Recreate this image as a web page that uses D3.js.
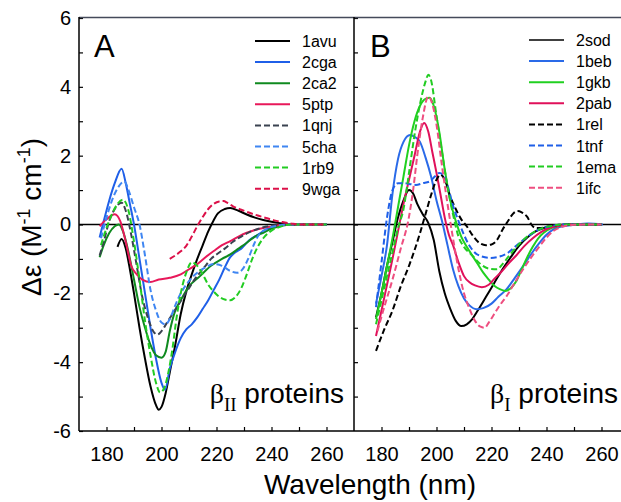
<!DOCTYPE html>
<html>
<head>
<meta charset="utf-8">
<script src="https://cdn.jsdelivr.net/npm/d3@7"></script>
<style>
  body { margin: 0; background: #fff; }
  svg { display: block; font-family: "Liberation Sans", Arial, sans-serif; }
  .axis .domain { display: none; }
  .axis line { stroke: #000; stroke-width: 1.2; }
  .curve { fill: none; stroke-width: 2; stroke-linejoin: round; }
</style>
</head>
<body>
<div id="chart"></div>
<script>
// wavelength (nm) / delta epsilon pairs

// panel A : beta II proteins
var avu1 = [[184,-0.65],[185.5,-0.42],[187,-0.7],[188.5,-1.3],[190,-2.0],[192,-3.0],[194,-3.9],[196,-4.7],[198,-5.25],[199,-5.38],[200,-5.3],[201.5,-4.9],[203,-4.3],[205,-3.5],[207,-2.6],[209,-1.95],[211,-1.45],[213,-1.0],[215,-0.6],[217,-0.2],[218.5,0.05],[220.5,0.32],[223,0.45],[225,0.48],[228,0.4],[231,0.29],[234,0.2],[237,0.13],[240,0.08],[243,0.04],[247,0.01],[250,0],[260,0]];
var cga2 = [[177.5,-0.38],[179,0.1],[181,0.7],[183,1.2],[185.5,1.62],[187,1.2],[188.5,0.6],[190,0.0],[192,-1.0],[194,-2.0],[196,-3.0],[198,-3.9],[200,-4.6],[201.3,-4.8],[203,-4.2],[205,-3.7],[207,-3.3],[209,-3.05],[211,-2.9],[213,-2.7],[215,-2.45],[217,-2.2],[219,-1.9],[221,-1.6],[223,-1.25],[225,-0.95],[227,-0.8],[229,-0.7],[232,-0.45],[235,-0.3],[238,-0.15],[242,-0.05],[246,0],[260,0]];
var ca22 = [[177.5,-0.95],[179,-0.6],[181,-0.25],[183,-0.05],[184.5,0.0],[186,-0.2],[188,-0.8],[190,-1.6],[192,-2.4],[194,-3.0],[196,-3.5],[198,-3.8],[200,-3.87],[201.5,-3.7],[203,-3.1],[205,-2.5],[207,-2.2],[210,-1.8],[214,-1.5],[218,-1.2],[222,-1.0],[225,-0.87],[228,-0.7],[231,-0.53],[234,-0.35],[237,-0.24],[240,-0.12],[243,-0.05],[247,0],[260,0]];
var ptp5 = [[177.5,-0.05],[180,0.15],[183,0.3],[185,0.1],[187,-0.5],[189,-1.2],[191,-1.45],[193,-1.6],[196,-1.67],[199,-1.6],[203,-1.55],[207,-1.45],[210,-1.3],[213,-1.15],[216,-0.95],[219,-0.77],[222,-0.6],[225,-0.48],[228,-0.35],[231,-0.24],[234,-0.16],[237,-0.1],[241,-0.04],[246,0],[260,0]];
var qnj1 = [[177.5,-0.9],[179,-0.5],[181,0.1],[183,0.45],[185.5,0.63],[187,0.4],[189,-0.3],[191,-1.2],[193,-2.1],[195,-2.7],[197,-3.1],[198.5,-3.2],[200,-3.1],[202,-2.85],[204,-2.6],[206,-2.35],[208,-2.1],[210,-1.85],[212,-1.6],[214,-1.4],[216,-1.2],[218,-1.0],[220,-0.87],[223,-0.7],[226,-0.5],[229,-0.35],[232,-0.22],[235,-0.13],[238,-0.06],[242,-0.02],[246,0],[260,0]];
var cha5 = [[178,-0.4],[180,0.2],[182,0.7],[184,1.05],[186.5,1.25],[188,1.0],[190,0.5],[192,0.0],[194,-0.9],[196,-1.9],[198,-2.5],[200,-2.85],[201.5,-2.9],[203,-2.75],[205,-2.35],[207,-2.0],[209,-1.75],[211,-1.55],[213,-1.4],[216,-1.25],[219,-1.15],[222,-1.2],[225,-1.35],[227.5,-1.4],[229.5,-1.3],[231.5,-1.0],[233.5,-0.6],[235,-0.35],[238,-0.14],[242,-0.04],[246,0],[260,0]];
var rb91 = [[178,-0.6],[180,-0.1],[182,0.3],[184,0.6],[186,0.72],[188,0.4],[190,-0.5],[192,-1.6],[194,-2.8],[196,-3.8],[198,-4.6],[199.5,-4.88],[201,-4.75],[202.5,-4.3],[204,-3.6],[205.5,-2.7],[207,-2.0],[209,-1.4],[211,-1.1],[213,-1.2],[215,-1.45],[217,-1.75],[219,-1.95],[221,-2.1],[223,-2.18],[225,-2.2],[227,-2.1],[229,-1.85],[231,-1.45],[233,-1.0],[235,-0.65],[237,-0.4],[240,-0.18],[243,-0.07],[247,0],[260,0]];
var wga9 = [[203,-1.0],[205,-0.9],[207,-0.78],[209,-0.62],[211,-0.35],[213,-0.05],[215,0.22],[217,0.45],[219,0.6],[221,0.67],[222.5,0.68],[224,0.63],[226,0.53],[229,0.43],[232,0.34],[235,0.26],[238,0.19],[241,0.12],[244,0.07],[247,0.03],[250,0],[260,0]];

// panel B : beta I proteins
var sod2 = [[178,-2.7],[180,-2.0],[182,-1.2],[184,-0.5],[186,0.2],[188,0.7],[190,1.0],[191.5,0.9],[193,0.6],[195,0.3],[197,0.05],[199,-0.45],[201,-1.35],[203,-2.0],[205,-2.45],[207,-2.8],[209,-2.95],[211,-2.9],[213,-2.75],[215,-2.5],[218,-2.1],[221,-1.7],[224,-1.3],[227,-0.95],[230,-0.62],[233,-0.38],[236,-0.2],[239,-0.1],[243,-0.04],[247,0],[260,0]];
var beb1 = [[178,-2.3],[180,-1.5],[182,-0.6],[184,0.9],[186,1.9],[188,2.4],[190.4,2.6],[192,2.55],[194,2.4],[196,1.95],[198,1.4],[200,0.7],[202,0.1],[204,-0.6],[206,-1.3],[208,-1.8],[210,-2.15],[212,-2.35],[214.5,-2.46],[217,-2.43],[220,-2.3],[222.5,-2.1],[225.5,-1.88],[228.5,-1.55],[231.5,-1.21],[234.5,-0.85],[237.5,-0.53],[240,-0.3],[242.5,-0.14],[246,-0.05],[250,-0.01],[255,0.03],[260.5,0]];
var gkb1 = [[178,-2.75],[180,-2.0],[182,-1.2],[184,-0.4],[186,0.5],[188,1.4],[190,2.3],[192,3.0],[194,3.45],[196,3.65],[197.5,3.68],[199,3.45],[201,2.7],[203,1.6],[205,0.7],[207,0.1],[209,-0.35],[211,-0.65],[213,-0.9],[215,-1.15],[217,-1.4],[219,-1.6],[221,-1.78],[223,-1.88],[225,-1.93],[227,-1.85],[229,-1.65],[231,-1.3],[233,-0.95],[235,-0.65],[237,-0.4],[239,-0.24],[242,-0.1],[246,-0.03],[250,0],[260,0]];
var pab2 = [[178,-3.24],[180,-2.5],[182,-1.75],[184,-1.0],[186,-0.2],[188,0.6],[190,1.3],[192,2.0],[194,2.7],[195.5,2.95],[197,2.7],[198.5,2.1],[200,1.5],[201.5,0.85],[203,0.2],[204.5,-0.3],[206,-0.6],[208,-1.1],[210,-1.5],[212,-1.68],[214,-1.77],[216.5,-1.82],[219,-1.75],[221,-1.58],[223.5,-1.38],[226,-1.15],[229,-0.9],[232,-0.62],[235,-0.4],[238,-0.22],[241,-0.1],[245,-0.03],[250,0],[260,0]];
var rel1 = [[178,-3.67],[181,-3.05],[184,-2.5],[187,-1.8],[190,-1.2],[192,-0.75],[194,-0.25],[196,0.3],[198,0.85],[200,1.3],[201.5,1.45],[203,1.3],[205,0.82],[207,0.45],[209,0.15],[211,-0.05],[213,-0.3],[215.5,-0.53],[218,-0.6],[220,-0.58],[222,-0.45],[224,-0.15],[226,0.1],[228,0.33],[229.5,0.39],[231,0.35],[233,0.22],[234.5,0.0],[236,-0.1],[238,-0.1],[241,-0.05],[245,-0.01],[248,0],[260,0]];
var tnf1 = [[178,-2.4],[180,-1.1],[182,0.2],[184,1.0],[186,1.2],[188,1.2],[190,1.18],[192.5,1.15],[195,1.2],[197.5,1.25],[199.5,1.4],[201,1.5],[203,1.4],[204.5,1.0],[206,0.55],[208,0.1],[210,-0.3],[212,-0.62],[214,-0.82],[216.5,-0.93],[219.5,-0.97],[223,-0.93],[226,-0.82],[229,-0.62],[232,-0.42],[235,-0.25],[238,-0.12],[242,-0.04],[246,0],[260,0]];
var ema1 = [[178,-2.9],[180,-2.2],[182,-1.5],[184,-0.8],[186,-0.1],[188,0.45],[190,1.5],[192,2.6],[194,3.5],[196,4.15],[197,4.35],[198,4.2],[200,3.15],[202,2.1],[204,1.1],[206,0.3],[208,-0.35],[210,-0.65],[213,-0.9],[216,-1.15],[219,-1.28],[222,-1.3],[224,-1.15],[226,-0.95],[228,-0.75],[230.5,-0.53],[233,-0.35],[235,-0.24],[238,-0.12],[242,-0.04],[246,0],[260,0]];
var ifc1 = [[178.5,-3.1],[181,-2.4],[184,-1.6],[187,-0.7],[189.8,0.14],[191.5,1.0],[193,2.0],[195,3.1],[197,3.72],[198.5,3.5],[200,2.9],[202,1.7],[204,0.6],[206,-0.4],[208,-1.3],[210,-2.0],[212,-2.45],[214,-2.8],[216,-2.97],[217.5,-3.0],[219,-2.85],[221,-2.6],[223,-2.35],[225.5,-2.08],[228,-1.75],[231.5,-1.3],[234.5,-0.95],[237.5,-0.63],[240,-0.38],[242.5,-0.19],[246,-0.06],[250,-0.01],[255,0],[260,0]];

var namesA = ["1avu", "2cga", "2ca2", "5ptp", "1qnj", "5cha", "1rb9", "9wga"];
var valuesA = [avu1, cga2, ca22, ptp5, qnj1, cha5, rb91, wga9];
var namesB = ["2sod", "1beb", "1gkb", "2pab", "1rel", "1tnf", "1ema", "1ifc"];
var valuesB = [sod2, beb1, gkb1, pab2, rel1, tnf1, ema1, ifc1];
var yTicks = [-6, -4, -2, 0, 2, 4, 6];
var xTicks = [180, 200, 220, 240, 260];

// styles (kept apart from the values)
var colorsA = ["#000000", "#1f5fe8", "#0f8a1f", "#e8185a", "#3a4250", "#3f86f2", "#22cc22", "#dc1048"];
var dashA   = [null, null, null, null, "6,3", "6,3", "6,3", "6,3"];
var colorsB = ["#000000", "#2a6ae8", "#20d020", "#e0105a", "#000000", "#1f5fe8", "#22cc22", "#ee4f80"];
var dashB   = [null, null, null, null, "6,3", "6,3", "6,3", "6,3"];
var widthB  = [1.5, 2, 2, 2, 2, 2, 2, 2];

var width = 621, height = 502;
var plotTop = 18, plotBottom = 431;

var svg = d3.select("#chart").append("svg")
  .attr("width", width)
  .attr("height", height);

var y = d3.scaleLinear().domain([-6, 6]).range([plotBottom, plotTop]);
var xA = d3.scaleLinear().domain([170, 270]).range([79, 354]);
var xB = d3.scaleLinear().domain([170, 270]).range([354, 629]);

// clip areas for each panel
var defs = svg.append("defs");
defs.append("clipPath").attr("id", "clipA").append("rect")
  .attr("x", xA(170)).attr("y", plotTop).attr("width", xA(270) - xA(170)).attr("height", plotBottom - plotTop);
defs.append("clipPath").attr("id", "clipB").append("rect")
  .attr("x", xB(170)).attr("y", plotTop).attr("width", xB(270) - xB(170)).attr("height", plotBottom - plotTop);

function drawPanel(x, clipId, values, colors, dashes, widths) {
  var line = d3.line()
    .x(function (d) { return x(d[0]); })
    .y(function (d) { return y(d[1]); })
    .curve(d3.curveMonotoneX);

  var g = svg.append("g").attr("clip-path", "url(#" + clipId + ")");
  values.forEach(function (s, i) {
    g.append("path")
      .datum(s)
      .attr("class", "curve")
      .attr("d", line)
      .attr("stroke", colors[i])
      .attr("stroke-width", widths ? widths[i] : 2)
      .attr("stroke-dasharray", dashes[i]);
  });
}

// zero line
svg.append("line")
  .attr("x1", xA(170)).attr("x2", width)
  .attr("y1", y(0)).attr("y2", y(0))
  .attr("stroke", "#000").attr("stroke-width", 1.5);

drawPanel(xA, "clipA", valuesA, colorsA, dashA, null);
drawPanel(xB, "clipB", valuesB, colorsB, dashB, widthB);

// y axis, panel A (inward ticks)
svg.append("g")
  .attr("class", "axis")
  .attr("transform", "translate(" + xA(170) + ",0)")
  .call(d3.axisLeft(y).tickValues(d3.range(-6, 7)).tickSizeInner(-4).tickSizeOuter(0).tickPadding(8)
    .tickFormat(function (d) { return yTicks.indexOf(d) >= 0 ? String(d) : ""; }))
  .selectAll("text")
  .attr("font-size", 20)
  .attr("fill", "#000")
  .attr("font-family", "Liberation Sans, Arial, sans-serif");

// ticks on the shared divider, pointing into panel B
svg.append("g")
  .attr("class", "axis")
  .attr("transform", "translate(" + xB(170) + ",0)")
  .call(d3.axisRight(y).tickValues(d3.range(-5, 7)).tickSize(4).tickFormat(""));

// x axes
[xA, xB].forEach(function (x) {
  svg.append("g")
    .attr("class", "axis")
    .attr("transform", "translate(0," + plotBottom + ")")
    .call(d3.axisBottom(x).tickValues(d3.range(180, 270, 10)).tickSizeInner(-4).tickSizeOuter(0).tickPadding(16)
      .tickFormat(function (d) { return xTicks.indexOf(d) >= 0 ? String(d) : ""; }))
    .selectAll("text")
    .attr("font-size", 20)
    .attr("fill", "#000")
    .attr("font-family", "Liberation Sans, Arial, sans-serif");
});

// frame
var frame = svg.append("g").attr("stroke", "#000").attr("stroke-width", 1.5);
frame.append("line").attr("x1", xA(170)).attr("x2", width).attr("y1", plotTop - 0.5).attr("y2", plotTop - 0.5).attr("stroke", "#444a5a");
frame.append("line").attr("x1", xA(170)).attr("x2", width).attr("y1", plotBottom).attr("y2", plotBottom);
frame.append("line").attr("x1", xA(170)).attr("x2", xA(170)).attr("y1", plotTop - 1).attr("y2", plotBottom);
frame.append("line").attr("x1", xB(170)).attr("x2", xB(170)).attr("y1", plotTop - 1).attr("y2", plotBottom);

// axis titles
svg.append("text")
  .attr("x", 370).attr("y", 494)
  .attr("text-anchor", "middle")
  .attr("font-size", 28)
  .text("Wavelength (nm)");

var yTitle = svg.append("text")
  .attr("transform", "translate(41,217) rotate(-90)")
  .attr("text-anchor", "middle")
  .attr("font-size", 28);
yTitle.append("tspan").text("\u0394\u03b5 (M");
yTitle.append("tspan").attr("font-size", 18).attr("dy", -11).text("-1");
yTitle.append("tspan").attr("dy", 11).text(" cm");
yTitle.append("tspan").attr("font-size", 18).attr("dy", -11).text("-1");
yTitle.append("tspan").attr("dy", 11).text(")");

// panel letters
svg.append("text").attr("x", 94).attr("y", 57).attr("font-size", 31).text("A");
svg.append("text").attr("x", 370).attr("y", 57).attr("font-size", 31).text("B");

// panel captions
function caption(xRight, sub) {
  var t = svg.append("text")
    .attr("x", xRight).attr("y", 403)
    .attr("text-anchor", "end")
    .attr("font-size", 28);
  t.append("tspan").attr("font-family", "Liberation Serif, serif").text("\u03b2");
  t.append("tspan").attr("font-family", "Liberation Serif, serif").attr("font-size", 19).attr("dy", 8).text(sub);
  t.append("tspan").attr("dy", -8).text(" proteins");
}
caption(344, "II");
caption(618, "I");

// legends
function legend(x0, y0, names, colors, dashes, widths) {
  var g = svg.append("g");
  names.forEach(function (n, i) {
    var yy = y0 + i * 21.1;
    g.append("line")
      .attr("x1", x0).attr("x2", x0 + 35)
      .attr("y1", yy).attr("y2", yy)
      .attr("stroke", colors[i])
      .attr("stroke-width", widths ? widths[i] : 2)
      .attr("stroke-dasharray", dashes[i]);
    g.append("text")
      .attr("x", x0 + 47).attr("y", yy + 6)
      .attr("font-size", 16)
      .text(n);
  });
}
legend(255, 41, namesA, colorsA, dashA, null);
legend(529, 40, namesB, colorsB, dashB, widthB);
</script>
</body>
</html>
